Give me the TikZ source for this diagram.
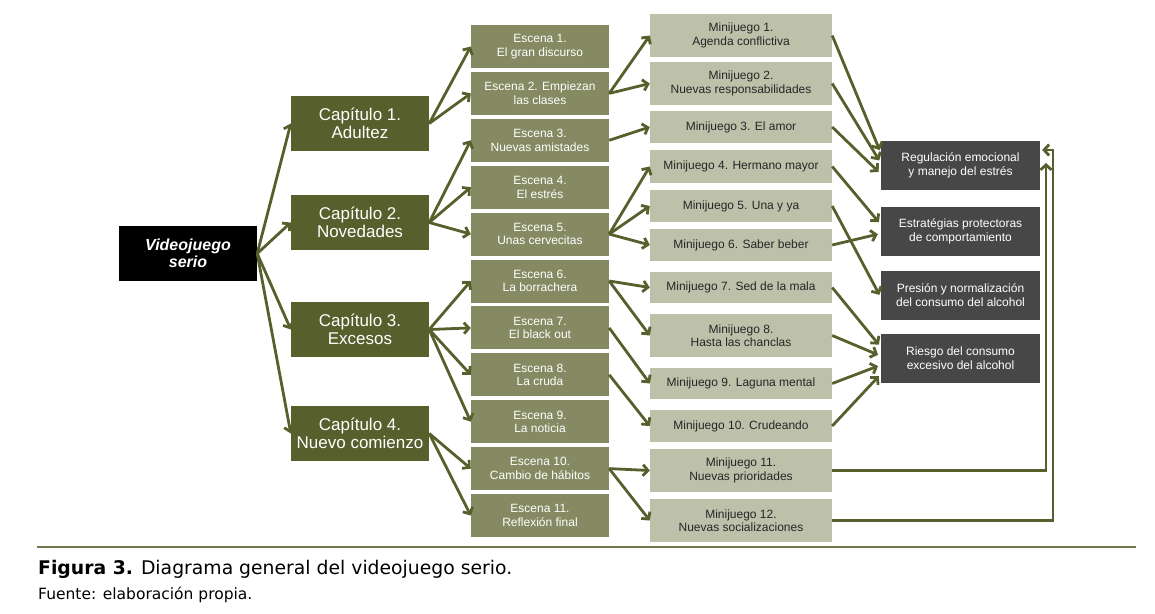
\documentclass[tikz,border=0pt]{standalone}
\usepackage{fontspec}
\setmainfont{Liberation Sans}
\newfontfamily\captionfont{DejaVu Sans}
\usepackage{tikz}
\usetikzlibrary{arrows.meta, calc, positioning}
\definecolor{olive-dark}{RGB}{87,96,44}
\definecolor{olive-mid}{RGB}{133,138,98}
\definecolor{olive-light}{RGB}{189,193,170}
\definecolor{outcome-grey}{RGB}{71,71,71}
\colorlet{edge-olive}{olive-dark}
\tikzset{%
    edge/.style={%
        draw=edge-olive,
        line width=2.8pt,
        -{Straight Barb[length=5pt, width=11pt]},
    },
    box/.style={%
        rectangle,
        inner sep=0pt,
        align=center,
        text centered,
    },
    game/.style={%
        box,
        fill=black,
        text=white,
        minimum width=138pt,
        minimum height=55pt,
        font=\bfseries\itshape\fontsize{16}{17}\selectfont,
    },
    chapter/.style={%
        box,
        fill=olive-dark,
        text=white,
        minimum width=138pt,
        minimum height=55pt,
        font=\fontsize{17}{17.5}\selectfont,
    },
    scene/.style={%
        box,
        fill=olive-mid,
        text=white,
        minimum width=138pt,
        minimum height=43pt,
        font=\fontsize{12}{13.5}\selectfont,
    },
    minigame/.style={%
        box,
        fill=olive-light,
        text=black!85,
        minimum width=182pt,
        font=\fontsize{12}{13.5}\selectfont,
    },
    outcome/.style={%
        box,
        fill=outcome-grey,
        text=white,
        minimum width=159pt,
        minimum height=49pt,
        font=\fontsize{12}{14}\selectfont,
    },
    rule/.style={%
        draw=olive-dark!85,
        line width=1.4pt,
    }
}

\begin{document}
\begin{tikzpicture}[x=1pt, y=-1pt]
  \useasboundingbox (0,0) rectangle (1155,613);
  % \draw[help lines, step=50] (0,0) grid (1155,613);
  \coordinate (left_side) at (188,253.5);
  \coordinate (chapter_col) at (360,0);
  \coordinate (scene_top) at (540,46.5);

  \node [game] at (left_side) (game) {Videojuego\\serio};

  \node [chapter] at (chapter_col |- 0,123.5) (cap_1) {Capítulo 1.\\Adultez};
  \node [chapter] at (chapter_col |- 0,222.5) (cap_2) {Capítulo 2.\\Novedades};
  \node [chapter] at (chapter_col |- 0,329.5) (cap_3) {Capítulo 3.\\Excesos};
  \node [chapter] at (chapter_col |- 0,433.5) (cap_4) {Capítulo 4.\\Nuevo comienzo};

  \node [scene] at (scene_top) (esc_1) {Escena 1.\\El gran discurso};
  \node [scene, below=3.5pt of esc_1] (esc_2) {Escena 2. Empiezan\\las clases};
  \node [scene, below=3.5pt of esc_2] (esc_3) {Escena 3.\\Nuevas amistades};
  \node [scene, below=3.5pt of esc_3] (esc_4) {Escena 4.\\El estrés};
  \node [scene, below=3.5pt of esc_4] (esc_5) {Escena 5.\\Unas cervecitas};
  \node [scene, below=3.5pt of esc_5] (esc_6) {Escena 6.\\La borrachera};
  \node [scene, below=3.5pt of esc_6] (esc_7) {Escena 7.\\El black out};
  \node [scene, below=3.5pt of esc_7] (esc_8) {Escena 8.\\La cruda};
  \node [scene, below=3.5pt of esc_8] (esc_9) {Escena 9.\\La noticia};
  \node [scene, below=3.5pt of esc_9] (esc_10) {Escena 10.\\Cambio de hábitos};
  \node [scene, below=3.5pt of esc_10] (esc_11) {Escena 11.\\Reflexión final};

  \node [minigame, minimum height=43pt] at (741,35.5) (mini_1) {Minijuego 1.\\Agenda conflictiva};
  \node [minigame, minimum height=43pt] at (741,83.5) (mini_2) {Minijuego 2.\\Nuevas responsabilidades};
  \node [minigame, minimum height=32pt] at (741,127) (mini_3) {Minijuego 3. El amor};
  \node [minigame, minimum height=33pt] at (741,166.5) (mini_4) {Minijuego 4. Hermano mayor};
  \node [minigame, minimum height=32pt] at (741,206) (mini_5) {Minijuego 5. Una y ya};
  \node [minigame, minimum height=32pt] at (741,245) (mini_6) {Minijuego 6. Saber beber};
  \node [minigame, minimum height=31pt] at (741,287.5) (mini_7) {Minijuego 7. Sed de la mala};
  \node [minigame, minimum height=43pt] at (741,335.5) (mini_8) {Minijuego 8.\\Hasta las chanclas};
  \node [minigame, minimum height=31pt] at (741,383.5) (mini_9) {Minijuego 9. Laguna mental};
  \node [minigame, minimum height=32pt] at (741,426) (mini_10) {Minijuego 10. Crudeando};
  \node [minigame, minimum height=43pt] at (741,470.5) (mini_11) {Minijuego 11.\\Nuevas prioridades};
  \node [minigame, minimum height=43pt] at (741,520.5) (mini_12) {Minijuego 12.\\Nuevas socializaciones};

  \node [outcome] at (960.5,165) (out_reg) {Regulación emocional\\y manejo del estrés};
  \node [outcome] at (960.5,231.5) (out_est) {Estratégias protectoras\\de comportamiento};
  \node [outcome] at (960.5,295.5) (out_pre) {Presión y normalización\\del consumo del alcohol};
  \node [outcome] at (960.5,358) (out_rie) {Riesgo del consumo\\excesivo del alcohol};

  \draw[edge] (game.east) -- (cap_1.west);
  \draw[edge] (game.east) -- (cap_2.west);
  \draw[edge] (game.east) -- (cap_3.west);
  \draw[edge] (game.east) -- (cap_4.west);

  \draw[edge] (cap_1.east) -- (esc_1.west);
  \draw[edge] (cap_1.east) -- (esc_2.west);
  \draw[edge] (cap_2.east) -- (esc_3.west);
  \draw[edge] (cap_2.east) -- (esc_4.west);
  \draw[edge] (cap_2.east) -- (esc_5.west);
  \draw[edge] (cap_3.east) -- (esc_6.west);
  \draw[edge] (cap_3.east) -- (esc_7.west);
  \draw[edge] (cap_3.east) -- (esc_8.west);
  \draw[edge] (cap_3.east) -- (esc_9.west);
  \draw[edge] (cap_4.east) -- (esc_10.west);
  \draw[edge] (cap_4.east) -- (esc_11.west);

  \draw[edge] (esc_2.east) -- (mini_1.west);
  \draw[edge] (esc_2.east) -- (mini_2.west);
  \draw[edge] (esc_3.east) -- (mini_3.west);
  \draw[edge] (esc_5.east) -- (mini_4.west);
  \draw[edge] (esc_5.east) -- (mini_5.west);
  \draw[edge] (esc_5.east) -- (mini_6.west);
  \draw[edge] (esc_6.east) -- (mini_7.west);
  \draw[edge] (esc_6.east) -- (mini_8.west);
  \draw[edge] (esc_7.east) -- (mini_9.west);
  \draw[edge] (esc_8.east) -- (mini_10.west);
  \draw[edge] (esc_10.east) -- (mini_11.west);
  \draw[edge] (esc_10.east) -- (mini_12.west);

  \draw[edge, shorten >=3pt] (mini_1.east) -- ([yshift=12pt]out_reg.west);
  \draw[edge, shorten >=3pt] (mini_2.east) -- ([yshift=2pt]out_reg.west);
  \draw[edge, shorten >=3pt] (mini_3.east) -- ([yshift=-9pt]out_reg.west);
  \draw[edge, shorten >=3pt] (mini_4.east) -- ([yshift=7pt]out_est.west);
  \draw[edge, shorten >=3pt] (mini_6.east) -- ([yshift=-2pt]out_est.west);
  \draw[edge, shorten >=3pt] (mini_5.east) -- ([yshift=-2pt]out_pre.west);
  \draw[edge, shorten >=3pt] (mini_7.east) -- ([yshift=11pt]out_rie.west);
  \draw[edge, shorten >=3pt] (mini_8.east) -- ([yshift=2pt]out_rie.west);
  \draw[edge, shorten >=3pt] (mini_9.east) -- ([yshift=-7pt]out_rie.west);
  \draw[edge, shorten >=3pt] (mini_10.east) -- ([yshift=-16pt]out_rie.west);

  % feedback to the first outcome
  \coordinate (back_in) at (1046,163);
  \coordinate (back_out) at (1053,150);
  \draw[edge] (mini_11.east) -| (back_in);
  \draw[edge] (mini_12.east) -| (back_out) -- ([xshift=2pt]back_out -| out_reg.east);

  % caption
  \coordinate (rule_left) at (37,547);
  \coordinate (rule_right) at (1136,547);
  \draw[rule] (rule_left) -- (rule_right);
  \node [anchor=base west, inner sep=0pt, font=\captionfont\fontsize{18.8}{19}\selectfont] at (38,574) (caption) {\textbf{Figura 3.} Diagrama general del videojuego serio.};
  \node [anchor=base west, inner sep=0pt, font=\captionfont\fontsize{15.5}{15.5}\selectfont] at (38,599) (source) {Fuente: elaboración propia.};
\end{tikzpicture}
\end{document}
